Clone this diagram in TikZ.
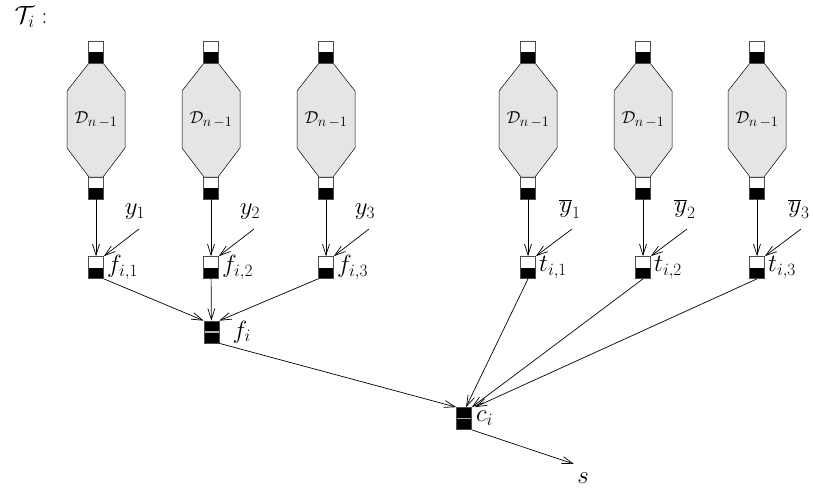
\documentclass[tikz,border=0pt]{standalone}
\usetikzlibrary{arrows.meta,positioning}
\begin{document}
\begin{tikzpicture}[x=1pt,y=-1pt,>={Straight Barb[length=11pt,width=7pt]},line width=.7pt]
    \tikzstyle{port} = [draw=gray!60!black, minimum width=15pt, minimum height=22pt, inner sep=0pt,
        path picture={\fill[black] (path picture bounding box.west) rectangle (path picture bounding box.south east);}]
    \tikzstyle{gate} = [draw=gray!60!black, fill=black, minimum width=15pt, minimum height=22pt, inner sep=0pt,
        path picture={\draw[gray!60, line width=1.2pt] (path picture bounding box.west) -- (path picture bounding box.east);}]
    \tikzstyle{lab} = [font=\fontsize{23}{26}\selectfont, inner sep=1pt]
    \tikzstyle{sub} = [font=\fontsize{19}{21}\selectfont, inner sep=0pt]

    \useasboundingbox (0,0) rectangle (813,493);
    \node [lab] (title) at (31,17) {$\mathcal{T}_i$ :};

    % the six copies of D_{n-1}
    \foreach \x/\i in {96/1,211/2,326/3,528/4,643/5,757/6} {
        \draw [fill=gray!20, line width=.5pt] (\x-7,63) -- (\x+7,63) -- (\x+29,91) -- (\x+29,148)
            -- (\x+7,177) -- (\x-7,177) -- (\x-29,148) -- (\x-29,91) -- cycle;
        \node [sub] (D\i) at (\x,120) {$\mathcal{D}_{n\,-1}$};
        \node [port] (in\i) at (\x,52) {};
        \node [port] (out\i) at (\x,188) {};
    }

    % f and t gates
    \foreach \x/\i in {96/1,211/2,326/3} {
        \node [port] (f\i) at (\x,267.5) {};
        \node [lab, right=2pt of f\i] (lf\i) {$f_{i,\i}$};
        \node [lab] (ly\i) at (\x+39,212) {$y_\i$};
        \coordinate (sy\i) at (\x+43,229);
        \draw [->] (out\i) -- (f\i);
        \draw [->] (sy\i) -- (f\i.north east);
    }
    \foreach \x/\i/\j in {528/1/4,643/2/5,757/3/6} {
        \node [port] (t\i) at (\x,267.5) {};
        \node [lab, right=2pt of t\i] (lt\i) {$t_{i,\i}$};
        \node [lab] (lyb\i) at (\x+42,209) {$\overline{y}_\i$};
        \coordinate (syb\i) at (\x+44,229);
        \draw [->] (out\j) -- (t\i);
        \draw [->] (syb\i) -- (t\i.north east);
    }

    \node [gate] (fi) at (211.5,332) {};
    \node [lab, right=12pt of fi] (lfi) {$f_i$};
    \node [gate] (ci) at (464,418.5) {};
    \node [lab, right=3pt of ci] (lci) {$c_i$};
    \coordinate (tip) at (574,464);
    \node [lab] (s) at (583,478) {$s$};

    \draw [->] (f1.south east) -- (fi.north west);
    \draw [->] (f2) -- (fi);
    \draw [->] (f3.south west) -- (fi.north east);
    \draw [->] (fi.south east) -- (ci.north west);
    \draw [->] (t1.south) -- ([xshift=2pt]ci.north);
    \draw [->] (t2.south) -- (ci.north east);
    \draw [->] (t3.south) -- ([xshift=3pt]ci.north east);
    \draw [->] (ci.south east) -- (tip);
\end{tikzpicture}
\end{document}
